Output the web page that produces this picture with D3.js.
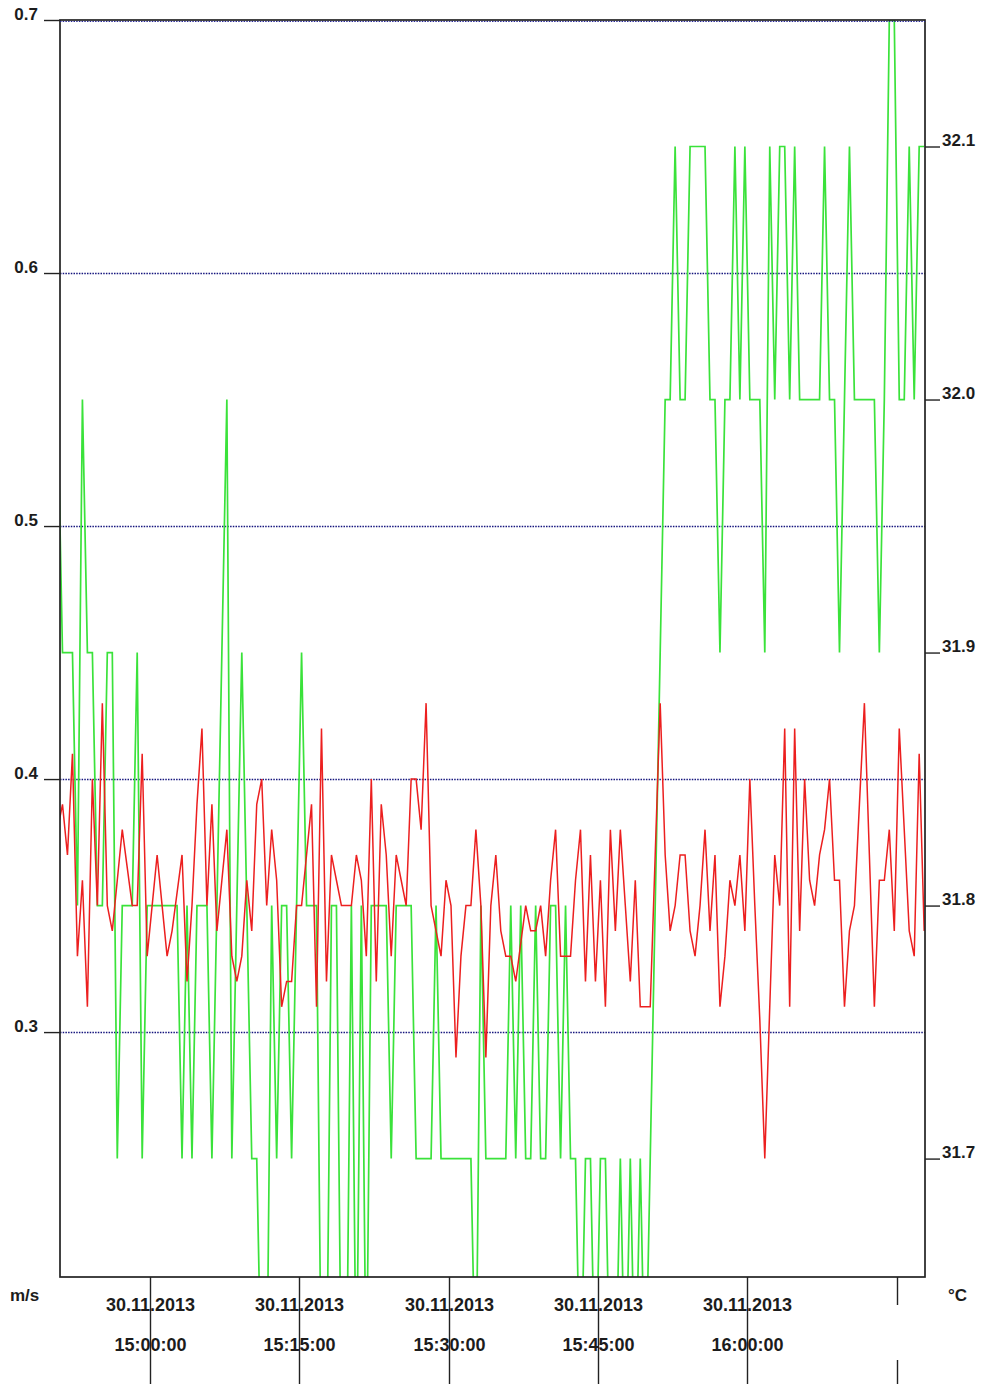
<!DOCTYPE html>
<html>
<head>
<meta charset="utf-8">
<script src="https://cdn.jsdelivr.net/npm/d3@7"></script>
<style>
  html, body { margin: 0; padding: 0; background: #fff; }
  svg { display: block; }
  text { font-family: "Liberation Sans", Arial, sans-serif; font-weight: bold; fill: #1c1c1c; }
</style>
</head>
<body>
<svg id="chart" width="982" height="1384"></svg>
<script>
// Logger readings: one sample every 30 s, first sample at 14:50:45
const sampleStart = "2013-11-30T14:50:45";
const sampleStepSeconds = 30;

// Wind speed, m/s (left axis)
const windSpeed = [0.55,
  0.45,0.45,0.45,0.35,0.55,0.45,0.45,0.35,0.35,0.45,
  0.45,0.25,0.35,0.35,0.35,0.45,0.25,0.35,0.35,0.35,
  0.35,0.35,0.35,0.35,0.25,0.35,0.25,0.35,0.35,0.35,
  0.25,0.35,0.45,0.55,0.25,0.35,0.45,0.35,0.25,0.25,
  0.15,0.15,0.35,0.25,0.35,0.35,0.25,0.35,0.45,0.35,
  0.35,0.35,0.15,0.15,0.35,0.35,0.15,0.15,0.35,0.15,
  0.35,0.15,0.35,0.35,0.35,0.35,0.25,0.35,0.35,0.35,
  0.35,0.25,0.25,0.25,0.25,0.35,0.25,0.25,0.25,0.25,
  0.25,0.25,0.25,0.15,0.35,0.25,0.25,0.25,0.25,0.25,
  0.35,0.25,0.35,0.25,0.25,0.35,0.25,0.25,0.35,0.35,
  0.25,0.35,0.25,0.25,0.15,0.25,0.25,0.15,0.25,0.25,
  0.15,0.15,0.25,0.15,0.25,0.15,0.25,0.15,0.25,0.35,
  0.45,0.55,0.55,0.65,0.55,0.55,0.65,0.65,0.65,0.65,
  0.55,0.55,0.45,0.55,0.55,0.65,0.55,0.65,0.55,0.55,
  0.55,0.45,0.65,0.55,0.65,0.65,0.55,0.65,0.55,0.55,
  0.55,0.55,0.55,0.65,0.55,0.55,0.45,0.55,0.65,0.55,
  0.55,0.55,0.55,0.55,0.45,0.55,0.70,0.70,0.55,0.55,
  0.65,0.55,0.65,0.65];

// Temperature, °C (right axis)
const temperature = [31.83,
  31.84,31.82,31.86,31.78,31.81,31.76,31.85,31.80,31.88,31.80,
  31.79,31.81,31.83,31.815,31.80,31.80,31.86,31.78,31.80,31.82,
  31.80,31.78,31.79,31.805,31.82,31.77,31.80,31.84,31.87,31.80,
  31.84,31.79,31.81,31.83,31.78,31.77,31.78,31.81,31.79,31.84,
  31.85,31.80,31.83,31.81,31.76,31.77,31.77,31.80,31.80,31.82,
  31.84,31.76,31.87,31.77,31.82,31.81,31.80,31.80,31.80,31.82,
  31.81,31.78,31.85,31.77,31.84,31.82,31.78,31.82,31.81,31.80,
  31.85,31.85,31.83,31.88,31.80,31.79,31.78,31.81,31.80,31.74,
  31.78,31.80,31.80,31.83,31.80,31.74,31.80,31.82,31.79,31.78,
  31.78,31.77,31.785,31.80,31.79,31.79,31.80,31.78,31.81,31.83,
  31.78,31.78,31.78,31.81,31.83,31.77,31.82,31.77,31.81,31.76,
  31.83,31.79,31.83,31.80,31.77,31.81,31.76,31.76,31.76,31.82,
  31.88,31.82,31.79,31.80,31.82,31.82,31.79,31.78,31.80,31.83,
  31.79,31.82,31.76,31.78,31.81,31.80,31.82,31.79,31.85,31.80,
  31.755,31.70,31.76,31.82,31.80,31.87,31.76,31.87,31.79,31.85,
  31.81,31.80,31.82,31.83,31.85,31.81,31.81,31.76,31.79,31.80,
  31.84,31.88,31.82,31.76,31.81,31.81,31.83,31.79,31.87,31.83,
  31.79,31.78,31.86,31.79];

// Axis extents and ticks
const timeExtent = ["2013-11-30T14:51:00", "2013-11-30T16:17:50"];
const speedExtent = [0.2032, 0.7];
const tempExtent = [31.6532, 32.15];
const speedTicks = [0.7, 0.6, 0.5, 0.4, 0.3];
const tempTicks = [32.1, 32.0, 31.9, 31.8, 31.7];
const timeTicks = ["2013-11-30T15:00:00", "2013-11-30T15:15:00", "2013-11-30T15:30:00",
                   "2013-11-30T15:45:00", "2013-11-30T16:00:00", "2013-11-30T16:15:00"];
const dateLabels = ["30.11.2013", "30.11.2013", "30.11.2013", "30.11.2013", "30.11.2013", null];
const timeLabels = ["15:00:00", "15:15:00", "15:30:00", "15:45:00", "16:00:00", null];
const speedUnit = "m/s";
const tempUnit = "°C";

// ---- layout ----
const W = 982, H = 1384;
const plot = { left: 60, right: 925, top: 20, bottom: 1277 };
const parse = d3.timeParse("%Y-%m-%dT%H:%M:%S");
const labelFont = "'Liberation Sans', Arial, sans-serif";

const svg = d3.select("#chart");

const x = d3.scaleTime()
  .domain(timeExtent.map(parse))
  .range([plot.left, plot.right]);
const ySpeed = d3.scaleLinear().domain(speedExtent).range([plot.bottom, plot.top]);
const yTemp = d3.scaleLinear().domain(tempExtent).range([plot.bottom, plot.top]);

const t0 = parse(sampleStart);
const timeAt = i => new Date(t0.getTime() + i * sampleStepSeconds * 1000);

svg.append("defs").append("clipPath").attr("id", "plot-clip")
  .append("rect")
  .attr("x", plot.left).attr("y", plot.top)
  .attr("width", plot.right - plot.left).attr("height", plot.bottom - plot.top);

// dotted horizontal grid on the speed scale
svg.append("g").selectAll("line").data(speedTicks.filter(v => v < 0.7)).join("line")
  .attr("x1", plot.left).attr("x2", plot.right)
  .attr("y1", d => Math.round(ySpeed(d)) + 0.5).attr("y2", d => Math.round(ySpeed(d)) + 0.5)
  .attr("stroke", "#16167e").attr("stroke-width", 1.3)
  .attr("stroke-dasharray", "1.5,1.2");

// series
const series = svg.append("g").attr("clip-path", "url(#plot-clip)");

const speedLine = d3.line().x((d, i) => x(timeAt(i))).y(d => ySpeed(d));
const tempLine = d3.line().x((d, i) => x(timeAt(i))).y(d => yTemp(d));

series.append("path").datum(windSpeed)
  .attr("d", speedLine)
  .attr("fill", "none").attr("stroke", "#3ae23a").attr("stroke-width", 1.7)
  .attr("stroke-linejoin", "miter");

series.append("path").datum(temperature)
  .attr("d", tempLine)
  .attr("fill", "none").attr("stroke", "#ec1f1f").attr("stroke-width", 1.5)
  .attr("stroke-linejoin", "miter");

// frame
svg.append("rect")
  .attr("x", plot.left).attr("y", plot.top)
  .attr("width", plot.right - plot.left).attr("height", plot.bottom - plot.top)
  .attr("fill", "none").attr("stroke", "#222").attr("stroke-width", 1.7);
svg.append("line")
  .attr("x1", plot.left).attr("x2", plot.right)
  .attr("y1", ySpeed(0.7) + 1.5).attr("y2", ySpeed(0.7) + 1.5)
  .attr("stroke", "#2a2a96").attr("stroke-width", 1).attr("stroke-dasharray", "1.5,1.2");

// left axis (m/s)
const leftAxis = svg.append("g")
  .attr("transform", `translate(${plot.left},0)`)
  .call(d3.axisLeft(ySpeed).tickValues(speedTicks).tickSize(16).tickPadding(6)
        .tickFormat(d3.format(".1f")));
leftAxis.select(".domain").remove();
leftAxis.selectAll(".tick line").attr("stroke", "#222").attr("stroke-width", 1.4);
leftAxis.selectAll(".tick text").attr("dy", "-0.05em")
  .style("font-size", "17px").style("font-family", labelFont)
  .style("font-weight", "bold").attr("fill", "#1c1c1c");

// right axis (°C)
const rightAxis = svg.append("g")
  .attr("transform", `translate(${plot.right},0)`)
  .call(d3.axisRight(yTemp).tickValues(tempTicks).tickSize(15).tickPadding(2)
        .tickFormat(d3.format(".1f")));
rightAxis.select(".domain").remove();
rightAxis.selectAll(".tick line").attr("stroke", "#222").attr("stroke-width", 1.4);
rightAxis.selectAll(".tick text").attr("dy", "-0.05em")
  .style("font-size", "17px").style("font-family", labelFont)
  .style("font-weight", "bold").attr("fill", "#1c1c1c");

// bottom time axis: long tick lines through the two label rows
const tickG = svg.append("g");
timeTicks.forEach((t, i) => {
  const tx = Math.round(x(parse(t))) + 0.5;
  if (dateLabels[i]) {
    tickG.append("line").attr("x1", tx).attr("x2", tx)
      .attr("y1", plot.bottom).attr("y2", H)
      .attr("stroke", "#222").attr("stroke-width", 1.4);
    tickG.append("text").attr("x", tx).attr("y", 1311)
      .attr("text-anchor", "middle").style("font-size", "18px").text(dateLabels[i]);
    tickG.append("text").attr("x", tx).attr("y", 1351)
      .attr("text-anchor", "middle").style("font-size", "18px").text(timeLabels[i]);
  } else {
    tickG.append("line").attr("x1", tx).attr("x2", tx)
      .attr("y1", plot.bottom).attr("y2", 1305)
      .attr("stroke", "#222").attr("stroke-width", 1.4);
    tickG.append("line").attr("x1", tx).attr("x2", tx)
      .attr("y1", 1360).attr("y2", H)
      .attr("stroke", "#222").attr("stroke-width", 1.4);
  }
});

// unit captions
svg.append("text").attr("x", 10).attr("y", 1301).style("font-size", "17px").text(speedUnit);
svg.append("text").attr("x", 948).attr("y", 1301).style("font-size", "17px").text(tempUnit);
</script>
</body>
</html>
